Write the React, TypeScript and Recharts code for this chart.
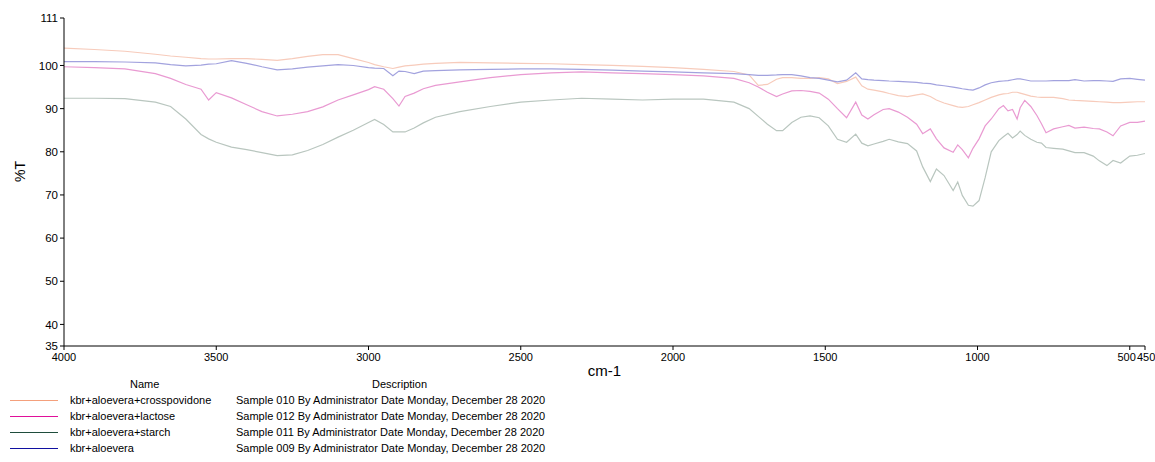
import { LineChart, Line, XAxis, YAxis } from 'recharts';

const wavenumbers = [
  4000, 3900, 3800, 3700, 3650, 3600, 3550, 3525, 3500, 3450, 3400, 3350, 3300, 3250, 3200, 3150,
  3100, 3050, 3000, 2980, 2950, 2920, 2900, 2880, 2850, 2820, 2780, 2700, 2600, 2500, 2400, 2300,
  2200, 2100, 2000, 1900, 1800, 1750, 1720, 1690, 1660, 1640, 1610, 1580, 1550, 1520, 1490, 1460,
  1430, 1400, 1380, 1360, 1340, 1310, 1290, 1260, 1230, 1200, 1180, 1155, 1135, 1110, 1080, 1065,
  1050, 1030, 1015, 995, 975, 955, 930, 915, 900, 885, 870, 860, 845, 825, 805, 790, 775, 750, 720,
  700, 680, 650, 620, 600, 575, 555, 530, 500, 475, 450,
];

const crosspovidone = [
  104.0, 103.7, 103.3, 102.6, 102.2, 101.9, 101.6, 101.5, 101.5, 101.6, 101.6, 101.4, 101.2, 101.6, 102.1, 102.5,
  102.5, 101.6, 100.7, 100.2, 99.7, 99.3, 99.6, 99.9, 100.1, 100.3, 100.5, 100.7, 100.6, 100.5, 100.4, 100.2,
  100.0, 99.8, 99.5, 99.1, 98.6, 97.8, 95.4, 95.6, 96.8, 97.2, 97.2, 97.0, 97.0, 97.2, 96.9, 95.8,
  96.3, 97.3, 95.3, 94.5, 94.3, 93.9, 93.5, 93.0, 92.8, 93.2, 93.4, 92.8, 92.0, 91.3, 90.7, 90.4,
  90.3, 90.5, 90.9, 91.4, 92.0, 92.6, 93.2, 93.4, 93.5, 93.8, 93.8, 93.6, 93.3, 92.9, 92.7, 92.6, 92.6, 92.6, 92.3,
  92.0, 91.9, 91.8, 91.7, 91.6, 91.5, 91.4, 91.4, 91.5, 91.6, 91.6,
];

const lactose = [
  99.7, 99.5, 99.2, 98.1, 97.0, 95.6, 94.5, 92.0, 93.7, 92.5, 90.9, 89.3, 88.3, 88.7, 89.3, 90.4,
  92.0, 93.2, 94.4, 95.1, 94.5, 92.3, 90.6, 92.8, 93.6, 94.6, 95.4, 96.2, 97.2, 97.9, 98.3, 98.5,
  98.3, 98.1, 97.9, 97.6, 97.0, 96.0, 95.0, 93.8, 92.8, 93.4, 94.1, 94.2, 94.0, 93.6, 92.2, 90.0,
  87.9, 91.5, 88.5, 87.6, 88.6, 89.8, 90.0, 89.2, 88.0, 86.4, 84.2, 85.3, 83.0, 80.9, 79.9, 81.6,
  80.5, 78.6, 80.8, 83.0, 86.0, 87.6, 90.0, 90.7, 89.5, 89.8, 87.6, 90.2, 91.9, 90.5, 88.4, 86.5, 84.4, 85.3, 85.8,
  86.1, 85.5, 85.7, 85.4, 85.3, 84.6, 83.7, 86.0, 86.8, 86.8, 87.1,
];

const starch = [
  92.4, 92.4, 92.3, 91.5, 90.5, 87.6, 84.0, 83.0, 82.2, 81.1, 80.5, 79.8, 79.1, 79.3, 80.3, 81.7,
  83.4, 85.0, 86.8, 87.5, 86.3, 84.6, 84.6, 84.6, 85.5, 86.7, 88.0, 89.3, 90.5, 91.5, 92.0, 92.4,
  92.2, 92.0, 92.2, 92.2, 91.5, 90.0, 88.2, 86.4, 84.9, 84.9, 86.8, 88.0, 88.3, 87.9, 86.0, 82.9,
  82.2, 84.1, 82.0, 81.4, 81.8, 82.4, 82.9, 82.3, 81.9, 80.2, 76.5, 73.1, 76.0, 74.5, 71.0, 73.0,
  69.9, 67.6, 67.4, 68.7, 74.0, 80.0, 82.6, 83.5, 84.3, 83.2, 84.0, 84.8, 83.8, 82.9, 82.2, 82.0, 81.0, 80.8, 80.6,
  80.2, 79.8, 79.8, 79.0, 77.9, 76.8, 78.0, 77.4, 79.0, 79.2, 79.6, 79.6,
];

const aloevera = [
  100.9, 100.9, 100.8, 100.6, 100.2, 99.9, 100.1, 100.3, 100.4, 101.1, 100.5, 99.7, 99.0, 99.2, 99.6, 99.9,
  100.2, 100.0, 99.5, 99.4, 99.3, 97.6, 98.7, 98.6, 98.1, 98.7, 98.8, 99.0, 99.1, 99.2, 99.2, 99.1,
  98.9, 98.7, 98.5, 98.3, 98.1, 97.9, 97.7, 97.7, 97.8, 97.9, 97.9, 97.6, 97.2, 97.0, 96.6, 96.2,
  96.6, 98.3, 96.9, 96.7, 96.6, 96.5, 96.4, 96.3, 96.2, 96.1, 95.9, 95.8, 95.5, 95.3, 95.0, 94.8,
  94.6, 94.4, 94.3, 94.8, 95.5, 96.0, 96.3, 96.4, 96.5, 96.7, 96.9, 96.9, 96.7, 96.4, 96.4, 96.4, 96.4, 96.5, 96.5,
  96.5, 96.7, 96.4, 96.5, 96.5, 96.4, 96.3, 96.9, 97.0, 96.8, 96.6,
];

const xTicks = [4000, 3500, 3000, 2500, 2000, 1500, 1000, 500, 450];
const yTicks = [35, 40, 50, 60, 70, 80, 90, 100, 111];

const samples = [
  { key: 'crosspovidone', name: 'kbr+aloevera+crosspovidone', desc: 'Sample 010 By Administrator Date Monday, December 28 2020', legend: '#f4a07c', stroke: '#f7cbbb' },
  { key: 'lactose', name: 'kbr+aloevera+lactose', desc: 'Sample 012 By Administrator Date Monday, December 28 2020', legend: '#e0109a', stroke: '#e99ad2' },
  { key: 'starch', name: 'kbr+aloevera+starch', desc: 'Sample 011 By Administrator Date Monday, December 28 2020', legend: '#1f4d3c', stroke: '#b9c6bf' },
  { key: 'aloevera', name: 'kbr+aloevera', desc: 'Sample 009 By Administrator Date Monday, December 28 2020', legend: '#1010a0', stroke: '#a2a2de' },
];

const rows = wavenumbers.map((wn, i) => ({
  wn,
  crosspovidone: crosspovidone[i],
  lactose: lactose[i],
  starch: starch[i],
  aloevera: aloevera[i],
}));

const font = '"Liberation Sans", Arial, sans-serif';
const tickStyle = { fill: '#000', fontSize: 11.5, fontFamily: font };

// 500 and 450 sit next to each other, push them apart so they read "500450"
function XTick(props: any) {
  const { x, y, payload } = props;
  let anchor = 'middle';
  let dx = 0;
  if (payload.value === 500) { anchor = 'end'; dx = 6; }
  if (payload.value === 450) { anchor = 'start'; dx = -8; }
  return (
    <text x={x + dx} y={y + 9} textAnchor={anchor} fill="#000" fontSize={11} fontFamily={font}>
      {payload.value}
    </text>
  );
}

export default function App() {
  return (
    <div style={{ position: 'absolute', left: 0, top: 0, width: 1155, height: 462, background: '#fff', fontFamily: font }}>
      <LineChart width={1155} height={462} data={rows} margin={{ top: 18, right: 10, bottom: 96, left: 24 }}>
        <XAxis
          dataKey="wn"
          type="number"
          domain={[450, 4000]}
          reversed
          ticks={xTicks}
          interval={0}
          height={20}
          tick={<XTick />}
          tickSize={4}
          stroke="#000"
          label={{ value: 'cm-1', position: 'insideBottom', offset: -10, fill: '#000', fontSize: 15, fontFamily: font }}
        />
        <YAxis
          domain={[35, 111]}
          ticks={yTicks}
          interval={0}
          width={40}
          tick={tickStyle}
          tickSize={4}
          stroke="#000"
          label={{ value: '%T', angle: -90, position: 'insideLeft', offset: -4, fill: '#000', fontSize: 14, fontFamily: font }}
        />
        {samples.map((s) => (
          <Line
            key={s.key}
            dataKey={s.key}
            stroke={s.stroke}
            strokeWidth={1.2}
            dot={false}
            type="linear"
            isAnimationActive={false}
          />
        ))}
      </LineChart>

      {/* legend table under the plot */}
      <div style={{ position: 'absolute', left: 0, top: 376, fontSize: 11, color: '#000', lineHeight: '16px' }}>
        <div style={{ position: 'relative', height: 16 }}>
          <span style={{ position: 'absolute', left: 130 }}>Name</span>
          <span style={{ position: 'absolute', left: 372 }}>Description</span>
        </div>
        {samples.map((s) => (
          <div key={s.key} style={{ position: 'relative', height: 16, width: 700 }}>
            <div style={{ position: 'absolute', left: 10, top: 8, width: 48, borderTop: `1px solid ${s.legend}` }} />
            <span style={{ position: 'absolute', left: 70 }}>{s.name}</span>
            <span style={{ position: 'absolute', left: 236, whiteSpace: 'nowrap' }}>{s.desc}</span>
          </div>
        ))}
      </div>
    </div>
  );
}
